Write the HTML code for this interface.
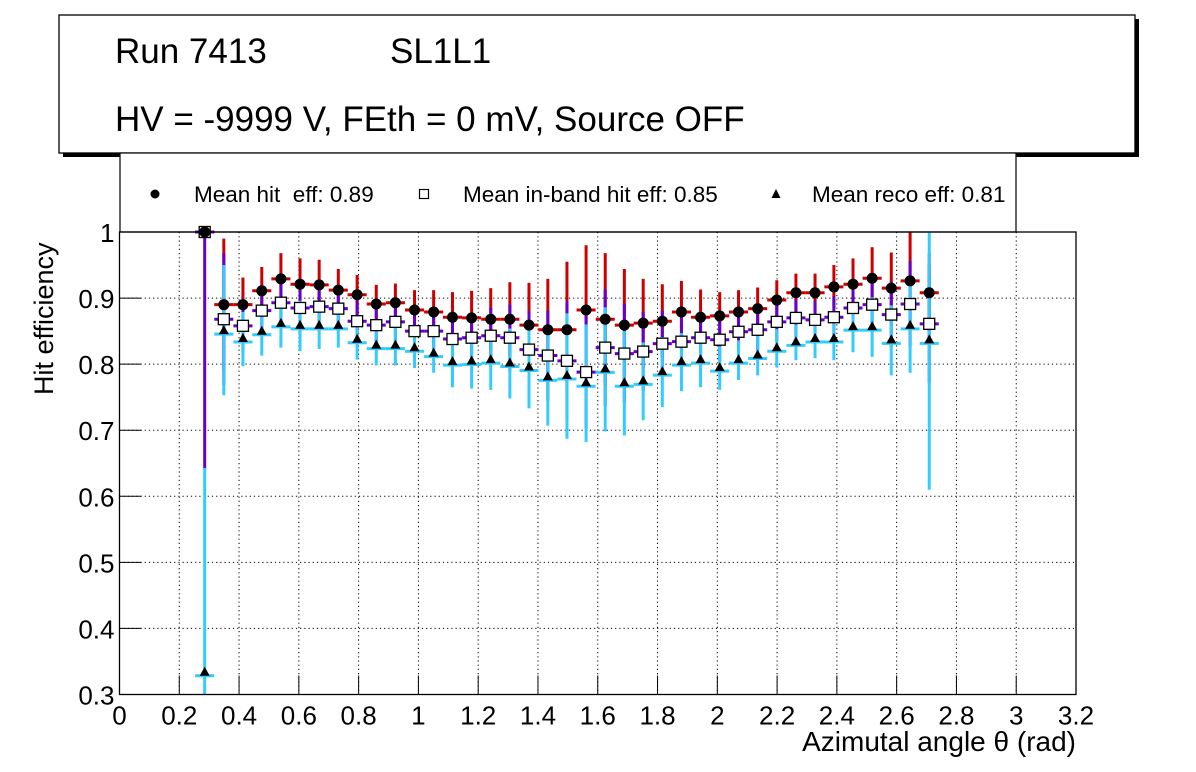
<!DOCTYPE html>
<html><head><meta charset="utf-8"><style>
html,body{margin:0;padding:0;background:#fff;}
svg{display:block;font-family:"Liberation Sans",Arial,sans-serif;}
</style></head><body>
<svg id="chart" width="1196" height="772" viewBox="0 0 1196 772">
  <g>
    <rect x="63" y="19" width="1076" height="138" fill="#000"/>
    <rect x="59" y="15" width="1076" height="138" fill="#fff" stroke="#000" stroke-width="1.3"/>
    <text x="115" y="63" font-size="35">Run 7413</text>
    <text x="390" y="63" font-size="35">SL1L1</text>
    <text x="115" y="131" font-size="35">HV = -9999 V, FEth = 0 mV, Source OFF</text>
  </g>
  <g>
    <rect x="120" y="153" width="896" height="79" fill="#fff" stroke="#000" stroke-width="1.2"/>
    <g>
      <circle cx="155" cy="194" r="4.5" fill="#000"/>
      <text x="194" y="202" font-size="22.5">Mean hit&#160; eff: 0.89</text>
    </g>
    <g>
      <rect x="419.5" y="189.5" width="9" height="9" fill="#fff" stroke="#000" stroke-width="1.2"/>
      <text x="463" y="202" font-size="22.5">Mean in-band hit eff: 0.85</text>
    </g>
    <g>
      <polygon points="776,189 780.5,198 771.5,198" fill="#000"/>
      <text x="812" y="202" font-size="22.5">Mean reco eff: 0.81</text>
    </g>
  </g>
  <g id="grid"></g>
  <g id="series"></g>
  <rect x="119.5" y="232" width="956.5" height="462.5" fill="none" stroke="#000" stroke-width="1.3"/>
  <g id="axes"></g>
  <text x="0" y="0" font-size="27" transform="translate(53,395) rotate(-90)">Hit efficiency</text>
  <text x="1076" y="751" font-size="28" text-anchor="end">Azimutal angle θ (rad)</text>
</svg>
<script>
const xVals = [0.285,0.349,0.413,0.476,0.540,0.604,0.668,0.732,0.795,0.859,0.923,0.987,1.051,1.114,1.178,1.242,1.306,1.370,1.433,1.497,1.561,1.625,1.689,1.752,1.816,1.880,1.944,2.008,2.071,2.135,2.199,2.263,2.327,2.390,2.454,2.518,2.582,2.645,2.709];
const hitEff = [1.0,0.890,0.890,0.911,0.929,0.921,0.920,0.912,0.905,0.891,0.893,0.882,0.879,0.871,0.870,0.868,0.868,0.859,0.852,0.852,0.882,0.868,0.859,0.862,0.865,0.879,0.871,0.873,0.879,0.884,0.897,0.908,0.908,0.917,0.921,0.930,0.915,0.926,0.908];
const hitErr = [0.0,0.10,0.041,0.036,0.039,0.039,0.038,0.032,0.030,0.029,0.029,0.030,0.033,0.038,0.041,0.047,0.056,0.064,0.077,0.103,0.098,0.10,0.085,0.067,0.056,0.047,0.042,0.036,0.033,0.032,0.030,0.029,0.029,0.033,0.039,0.047,0.054,0.074,0.06];
const inbandEff = [1.0,0.868,0.858,0.881,0.893,0.885,0.887,0.884,0.865,0.859,0.864,0.850,0.850,0.838,0.840,0.843,0.840,0.822,0.813,0.805,0.788,0.825,0.816,0.819,0.831,0.834,0.840,0.837,0.849,0.852,0.864,0.870,0.867,0.871,0.885,0.890,0.875,0.891,0.861];
const inbandErr = [0.36,0.10,0.041,0.036,0.038,0.038,0.036,0.034,0.031,0.030,0.030,0.030,0.030,0.034,0.037,0.042,0.050,0.058,0.068,0.090,0.085,0.088,0.075,0.060,0.050,0.042,0.038,0.033,0.031,0.031,0.029,0.028,0.029,0.032,0.037,0.042,0.050,0.065,0.09];
const recoEff = [0.333,0.850,0.838,0.849,0.861,0.858,0.858,0.858,0.837,0.828,0.828,0.824,0.816,0.803,0.804,0.806,0.801,0.795,0.780,0.782,0.771,0.792,0.771,0.774,0.788,0.803,0.806,0.794,0.806,0.813,0.824,0.833,0.838,0.838,0.856,0.856,0.836,0.858,0.836];
const recoErrUp = [0.31,0.10,0.041,0.036,0.036,0.038,0.035,0.033,0.030,0.030,0.030,0.030,0.029,0.038,0.041,0.045,0.053,0.062,0.073,0.095,0.089,0.094,0.079,0.059,0.053,0.044,0.041,0.033,0.030,0.030,0.029,0.027,0.029,0.032,0.038,0.045,0.053,0.071,0.17];
const recoErrDown = [0.05,0.097,0.041,0.036,0.036,0.038,0.035,0.033,0.030,0.030,0.030,0.030,0.029,0.038,0.041,0.045,0.053,0.062,0.073,0.095,0.089,0.094,0.079,0.059,0.053,0.044,0.041,0.033,0.030,0.030,0.029,0.027,0.029,0.032,0.038,0.045,0.053,0.071,0.226];
const xTicks = ["0","0.2","0.4","0.6","0.8","1","1.2","1.4","1.6","1.8","2","2.2","2.4","2.6","2.8","3","3.2"];
const yTicks = ["0.3","0.4","0.5","0.6","0.7","0.8","0.9","1"];

const NS="http://www.w3.org/2000/svg";
const X0=119.5, XS=(1076-119.5)/3.2, YB=694.5, YT=232, YMIN=0.3, YMAX=1.0;
function xp(v){return X0+v*XS;}
function yp(v){return YB-(v-YMIN)/(YMAX-YMIN)*(YB-YT);}
function cy(y){return Math.max(YT,Math.min(YB,y));}
function mk(tag,attrs,parent){const e=document.createElementNS(NS,tag);for(const k in attrs)e.setAttribute(k,attrs[k]);parent.appendChild(e);return e;}
const grid=document.getElementById('grid'), axes=document.getElementById('axes'), ser=document.getElementById('series');
xTicks.forEach((t,i)=>{const v=parseFloat(t);const x=xp(v);
  if(i>0&&i<xTicks.length-1){const g=mk('line',{x1:x,x2:x,y1:YT,y2:YB,stroke:'#000','stroke-width':1,'stroke-dasharray':'1.2,3'},grid);
  
  }
  const tk=mk('line',{x1:x,x2:x,y1:YB,y2:YB-19,stroke:'#000','stroke-width':1},axes);
  
  
  const tx=mk('text',{x:x,y:YB+30,'font-size':26,'text-anchor':'middle'},axes);tx.textContent=t;
  
  
});
yTicks.forEach((t,i)=>{const v=parseFloat(t);const y=yp(v);
  if(i>0&&i<yTicks.length-1){const g=mk('line',{x1:X0,x2:1076,y1:y,y2:y,stroke:'#000','stroke-width':1,'stroke-dasharray':'1.2,3'},grid);
  
  }
  const tk=mk('line',{x1:X0,x2:X0+22,y1:y,y2:y,stroke:'#000','stroke-width':1},axes);
  
  
  const tx=mk('text',{x:X0-5,y:y+10,'font-size':26,'text-anchor':'end'},axes);tx.textContent=t;
  
  
});
const hw=0.0319*XS;
const lineG=mk('g',{},ser);


const markG=mk('g',{},ser);


function drawSeries(vals,up,down,color,name,marker,dy){
  vals.forEach((v,i)=>{const x=xp(xVals[i]),y=yp(v);
    mk('line',{x1:x,x2:x,y1:cy(yp(v+up[i])),y2:cy(yp(v-down[i])),stroke:color,'stroke-width':3},lineG);
    mk('line',{x1:x-hw,x2:x+hw,y1:y+dy,y2:y+dy,stroke:color,'stroke-width':3},lineG);
  });
}
function drawMarkers(vals,name,marker){
  vals.forEach((v,i)=>{const x=xp(xVals[i]),y=yp(v);let m;
    if(marker==='circle'){m=mk('circle',{cx:x,cy:y,r:5.5,fill:'#000'},markG);}
    else if(marker==='square'){m=mk('rect',{x:x-5.5,y:y-5.5,width:11,height:11,fill:'#fff',stroke:'#000','stroke-width':1.3},markG);}
    else {m=mk('polygon',{points:`${x},${y-6} ${x+5},${y+3} ${x-5},${y+3}`,fill:'#000'},markG);}
    
    
  });
}
drawSeries(hitEff,hitErr,hitErr,'#cc0000','hit-eff','circle',0);
drawSeries(inbandEff,inbandErr,inbandErr,'#6600cc','inband-eff','square',0);
drawSeries(recoEff,recoErrUp,recoErrDown,'#33ccff','reco-eff','tri',3);
drawMarkers(recoEff,'reco-eff','tri');
drawMarkers(inbandEff,'inband-eff','square');
drawMarkers(hitEff,'hit-eff','circle');
</script>
</body></html>
